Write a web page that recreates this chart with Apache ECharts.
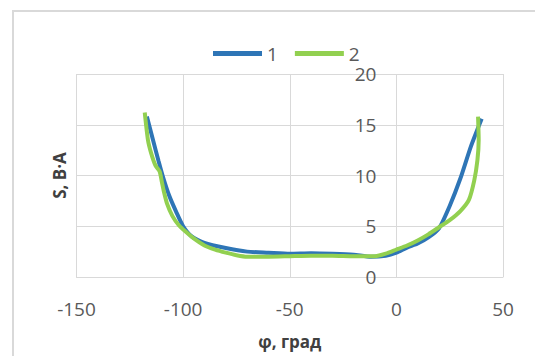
<!DOCTYPE html>
<html>
<head>
<meta charset="utf-8">
<script src="https://cdn.jsdelivr.net/npm/echarts@6/dist/echarts.min.js"></script>
<style>
  html, body { margin: 0; padding: 0; background: #fff; }
  #chart { width: 535px; height: 356px; }
</style>
</head>
<body>
<div id="chart"></div>
<script>
// series names
const seriesNames = ["1", "2"];

// series 1 (blue): [phi, S]
const series1 = [
  [-117, 15.8], [-114, 13.4], [-111.5, 11.4], [-109.5, 9.9], [-106.5, 8.0],
  [-103, 6.3], [-100, 5.0], [-96, 4.0], [-90, 3.35], [-80, 2.85], [-70, 2.5],
  [-60, 2.4], [-50, 2.3], [-40, 2.35], [-30, 2.3], [-20, 2.2], [-12, 2.0],
  [-5, 2.1], [0, 2.4], [5, 2.9], [10, 3.3], [15, 3.9], [20, 4.8], [25, 7.0],
  [30, 9.7], [35, 12.9], [40, 15.6]
];

// series 2 (green): [phi, S]
const series2 = [
  [-118, 16.2], [-116.5, 13.5], [-115, 12.2], [-113, 11.0], [-111, 10.4],
  [-110, 9.4], [-109, 8.4], [-107.5, 7.2], [-105, 6.0], [-102, 5.1], [-99, 4.5],
  [-95, 3.8], [-90, 3.1], [-85, 2.7], [-80, 2.4], [-75, 2.15], [-70, 2.0],
  [-60, 2.0], [-50, 2.05], [-40, 2.1], [-30, 2.1], [-20, 2.05], [-10, 2.05],
  [-5, 2.3], [0, 2.7], [5, 3.1], [10, 3.6], [15, 4.2], [20, 4.9], [25, 5.6],
  [30, 6.5], [34, 7.6], [36.5, 9.5], [38, 11.5], [38.6, 13.5], [38.3, 15.8]
];

// axis ticks
const xTicks = { min: -150, max: 50, interval: 50 };
const yTicks = { min: 0, max: 20, interval: 5 };

const chart = echarts.init(document.getElementById("chart"), null, { renderer: "svg" });

const font = "'Open Sans', 'Noto Sans', sans-serif";
const gridColor = "#d9d9d9";
const textColor = "#595959";
const titleStyle = { color: "#404040", fontSize: 17, fontWeight: "bold", fontFamily: font };
const gridLeft = 76.5;

chart.setOption({
  animation: false,
  textStyle: { fontFamily: font },
  graphic: [
    {
      type: "rect",
      shape: { x: 13, y: 11, width: 600, height: 400 },
      style: { fill: "none", stroke: gridColor, lineWidth: 2 },
      silent: true
    }
  ],
  legend: {
    left: 208,
    top: 39,
    icon: "rect",
    itemWidth: 49,
    itemHeight: 5,
    itemGap: 17,
    textStyle: { color: textColor, fontSize: 19, fontFamily: font },
    data: seriesNames
  },
  grid: { left: gridLeft, right: 32, top: 74, bottom: 79 },
  xAxis: {
    type: "value",
    min: xTicks.min,
    max: xTicks.max,
    interval: xTicks.interval,
    name: "φ, град",
    nameLocation: "middle",
    nameGap: 56,
    nameTextStyle: titleStyle,
    axisLine: { show: true, onZero: false, lineStyle: { color: gridColor } },
    axisTick: { show: false },
    axisLabel: { color: textColor, fontSize: 19, margin: 22, fontFamily: font },
    splitLine: { show: true, lineStyle: { color: gridColor } }
  },
  yAxis: [
    {
      // value labels, moved onto phi = 0 below
      type: "value",
      min: yTicks.min,
      max: yTicks.max,
      interval: yTicks.interval,
      axisLine: { show: false, onZero: false },
      axisTick: { show: false },
      axisLabel: { color: textColor, fontSize: 19, margin: 20, fontFamily: font },
      splitLine: { show: true, lineStyle: { color: gridColor } }
    },
    {
      // only carries the axis title on the left edge
      type: "value",
      position: "left",
      min: yTicks.min,
      max: yTicks.max,
      interval: yTicks.interval,
      name: "S, B·A",
      nameLocation: "middle",
      nameGap: 9,
      nameTextStyle: titleStyle,
      axisLine: { show: false, onZero: false },
      axisTick: { show: false },
      axisLabel: { show: false },
      splitLine: { show: false }
    }
  ],
  series: [
    {
      name: seriesNames[0],
      type: "line",
      data: series1,
      smooth: 0.2,
      showSymbol: false,
      color: "#2e75b6",
      lineStyle: { width: 4, color: "#2e75b6" }
    },
    {
      name: seriesNames[1],
      type: "line",
      data: series2,
      smooth: 0.2,
      showSymbol: false,
      color: "#92d050",
      lineStyle: { width: 4, color: "#92d050" }
    }
  ]
});

// place the value axis where phi = 0, as in the source chart
const xZero = chart.convertToPixel({ xAxisIndex: 0 }, 0);
chart.setOption({ yAxis: [{ offset: gridLeft - xZero }, {}] });
</script>
</body>
</html>
